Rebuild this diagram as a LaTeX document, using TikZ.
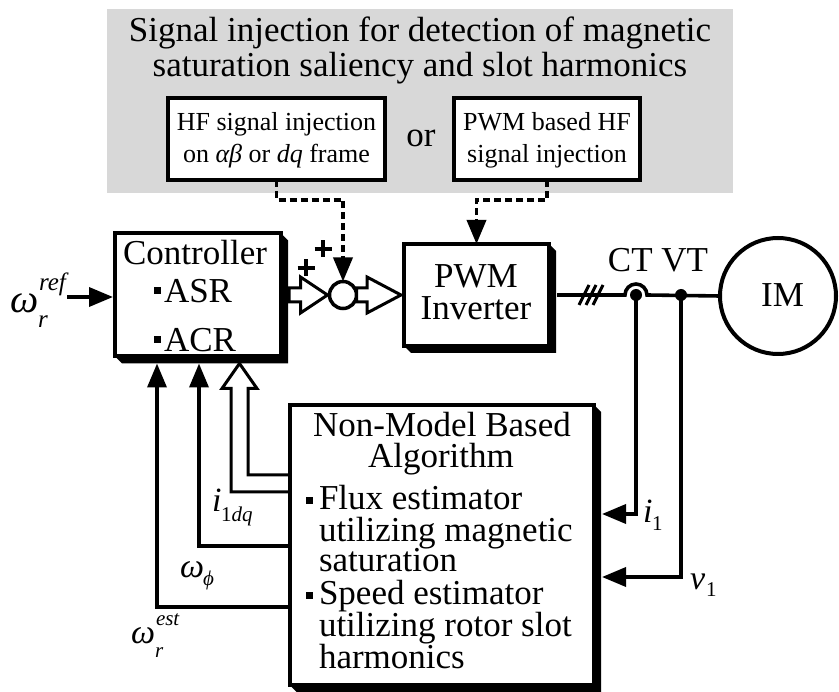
\documentclass[tikz,border=0pt]{standalone}
\usepackage{fontspec}
\setmainfont{Liberation Serif}
\usetikzlibrary{arrows.meta}
\definecolor{bggray}{RGB}{216,216,216}
\newcommand\fs[1]{\fontsize{#1}{#1}\selectfont}
\newcommand\bulx[2]{\rule[#2]{7pt}{7pt}\hspace{#1}}
\begin{document}
\begin{tikzpicture}[x=1pt,y=-1pt,
 box/.style={draw,line width=4pt,fill=white,inner sep=0pt,outer sep=0pt,rectangle},
 ln/.style={line width=3.6pt},
 tipx/.style={-{Triangle[width=19pt,length=24pt]}},
 dsh/.style={line width=3.6pt,dash pattern=on 7pt off 4pt},
 hol/.style={line width=3pt,fill=white,line join=miter},
 t/.style={inner sep=0pt,outer sep=0pt,anchor=base,font=\fs{35}},
 ts/.style={inner sep=0pt,outer sep=0pt,anchor=base,font=\fs{26}},
 tl/.style={inner sep=0pt,outer sep=0pt,anchor=base west,font=\fs{35}},
 lab/.style={inner sep=0pt,outer sep=0pt,anchor=base west,font=\fs{34}\itshape},
 sc/.style={inner sep=0pt,outer sep=0pt,anchor=base west,font=\fs{21}\itshape},
 plusln/.style={line width=4.5pt},
]
\newcommand\shad[1]{\fill (#1.north east) -- ([shift={(7,7)}]#1.north east) -- ([shift={(7,7)}]#1.south east) -- ([shift={(7,7)}]#1.south west) -- (#1.south west) -- (#1.south east) -- cycle;}
\useasboundingbox (0,0) rectangle (839,692);

% gray background panel
\fill[bggray] (107,9) rectangle (733,193);
\node[t] (title1) at (420,42) {Signal injection for detection of magnetic};
\node[t] (title2) at (420,77) {saturation saliency and slot harmonics};

% injection boxes
\node[box,minimum width=217pt,minimum height=82pt] (hf1) at (276.5,139) {};
\node[ts] (hf1a) at (276.5,131) {HF signal injection};
\node[ts] (hf1b) at (276.5,163) {on \textit{αβ} or \textit{dq} frame};
\node[t] (orx) at (421,147) {or};
\node[box,minimum width=186pt,minimum height=82pt] (hf2) at (547,139) {};
\node[ts] (hf2a) at (547,131) {PWM based HF};
\node[ts] (hf2b) at (547,163) {signal injection};

% main blocks
\node[box,minimum width=166pt,minimum height=123pt] (ctrl) at (198,295) {};
\shad{ctrl}
\node[t] (c1) at (195,265) {Controller};
\node[tl] (c2) at (154,303) {\bulx{3pt}{9pt}ASR};
\node[tl] (c3) at (154,352) {\bulx{3pt}{9pt}ACR};

\node[box,minimum width=145pt,minimum height=102pt] (pwm) at (476.5,295) {};
\shad{pwm}
\node[t] (p1) at (476,288) {PWM};
\node[t] (p2) at (476,320) {Inverter};

\node[box,minimum width=304.5pt,minimum height=280pt] (nm) at (441.75,545) {};
\shad{nm}
\node[t] (n1) at (442,437) {Non-Model Based};
\node[t] (n2) at (441,468) {Algorithm};
\node[tl] (n3) at (306,510) {\bulx{6pt}{6pt}Flux estimator};
\node[tl] (n4) at (319,542) {utilizing magnetic};
\node[tl] (n5) at (319,572) {saturation};
\node[tl] (n6) at (306,605) {\bulx{6pt}{6pt}Speed estimator};
\node[tl] (n7) at (319,637) {utilizing rotor slot};
\node[tl] (n8) at (319,668) {harmonics};

\node[draw,circle,line width=3.5pt,minimum size=27pt,inner sep=0pt,outer sep=0pt,fill=white] (sum) at (343,295) {};
\node[draw,circle,line width=4pt,minimum size=116pt,inner sep=0pt,outer sep=0pt] (im) at (778,296) {};
\node[t] (imt) at (782.5,307) {IM};
\node[t] (ctvt) at (658,272) {CT VT};

% helper coordinates
\coordinate (ctS) at ([shift={(0,7)}]ctrl.south);
\coordinate (ctW) at ([shift={(-2,0)}]ctrl.west);
\coordinate (nmE) at ([shift={(8,0)}]nm.east);
\coordinate (ct) at (636,295);
\coordinate (vt) at (681,295);
\coordinate (sl) at (591,295);
\coordinate (wref) at (67,297);
\coordinate (e1) at (157,607);
\coordinate (e2) at (199,546);
\coordinate (i1c) at (636,514);
\coordinate (v1c) at (681,577);
\coordinate (iqin) at (248,475);
\coordinate (iqout) at (231,492);
\coordinate (iqt) at (239.5,363.5);
\coordinate (p1c) at (306,268);
\coordinate (p2c) at (323,249);

% hollow arrows
\draw[hol] ([shift={(8,-7)}]ctrl.east) -- ([shift={(-29,-7)}]sum.west) -- ([shift={(-29,-18)}]sum.west) -- ([shift={(-2,0)}]sum.west) -- ([shift={(-29,18)}]sum.west) -- ([shift={(-29,7)}]sum.west) -- ([shift={(8,7)}]ctrl.east) -- cycle;
\draw[hol] ([shift={(0,-7)}]sum.east) -- ([shift={(-37,-7)}]pwm.west) -- ([shift={(-37,-18)}]pwm.west) -- ([shift={(-3,0)}]pwm.west) -- ([shift={(-37,18)}]pwm.west) -- ([shift={(-37,7)}]pwm.west) -- ([shift={(0,7)}]sum.east) -- cycle;
\draw[hol] (nm.west |- iqin) -- (iqin) -- ([shift={(8.5,25)}]iqt) -- ([shift={(17.5,25)}]iqt) -- (iqt) -- ([shift={(-17.5,25)}]iqt) -- ([shift={(-8.5,25)}]iqt) -- (iqout) -- (nm.west |- iqout) -- cycle;

% plus signs
\draw[plusln] ([shift={(-8.5,0)}]p1c) -- ([shift={(8.5,0)}]p1c) ([shift={(0,-8.5)}]p1c) -- ([shift={(0,8.5)}]p1c);
\draw[plusln] ([shift={(-8.5,0)}]p2c) -- ([shift={(8.5,0)}]p2c) ([shift={(0,-8.5)}]p2c) -- ([shift={(0,8.5)}]p2c);

% dashed injection paths
\draw[dsh,tipx] (hf1.south) -- ++(0,20) -| (sum.north);
\draw[dsh,tipx] (hf2.south) -- ++(0,20) -| (pwm.north);

% power line
\draw[ln] ([shift={(8,0)}]pwm.east) -- ([shift={(-11,0)}]ct) arc[start angle=180,end angle=360,radius=11] -- (im.west);
\foreach \dx in {-7,0,7} \draw[line width=3pt] ([shift={(\dx,0)}]sl) ++(-5,10) -- ++(10,-20);
\fill (ct) circle (6);
\fill (vt) circle (6);

% measurement feedback
\draw[ln,tipx] (ct) -- (i1c) -- (nmE |- i1c);
\draw[ln,tipx] (vt) -- (v1c) -- (nmE |- v1c);

% estimator outputs
\draw[ln,tipx] (nm.west |- e1) -- (e1) -- (e1 |- ctS);
\draw[ln,tipx] (nm.west |- e2) -- (e2) -- (e2 |- ctS);

% reference input
\draw[ln,tipx] (wref) -- (ctW |- wref);

% labels
\node[lab,font=\fs{40}\itshape] (wr) at (10,313) {ω};
\node[sc,font=\fs{25}\itshape] (wrs) at (39,291) {ref};
\node[sc,font=\fs{25}\itshape] (wrr) at (38,328) {r};
\node[lab] (we) at (131,644) {ω};
\node[sc] (wes) at (156,626) {est};
\node[sc] (wer) at (155,658) {r};
\node[lab] (wp) at (180,578) {ω};
\node[sc] (wps) at (203,586) {ϕ};
\node[lab] (iq) at (212,512) {i};
\node[sc] (iqs) at (221,522) {\upshape 1\itshape dq};
\node[lab] (ii) at (643,523) {i};
\node[sc] (iis) at (652,531) {\upshape 1};
\node[lab] (vv) at (690,590) {v};
\node[sc] (vvs) at (706,597) {\upshape 1};
\end{tikzpicture}
\end{document}
